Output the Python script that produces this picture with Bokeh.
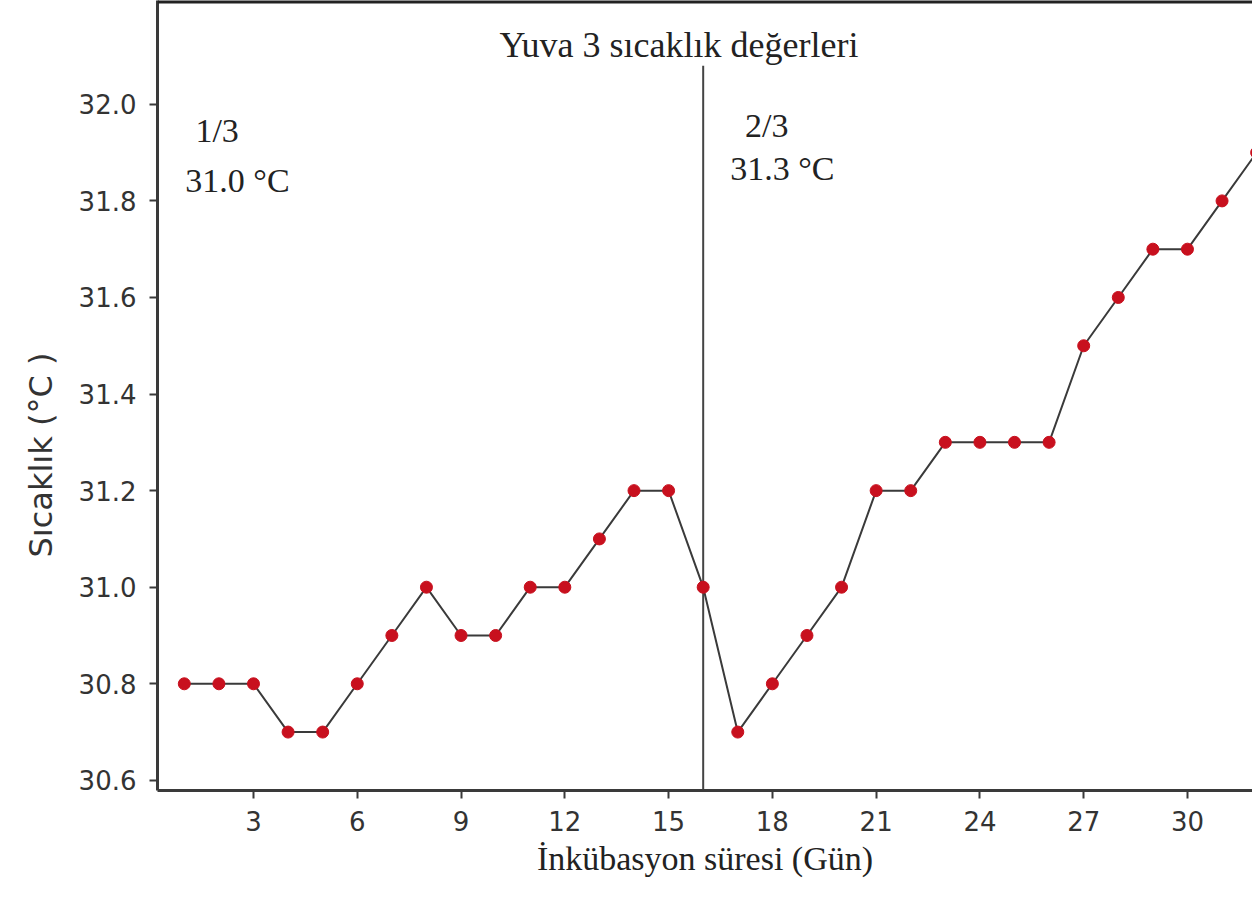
import math
from bokeh.plotting import figure
from bokeh.models import Label, Span, Range1d, FixedTicker, Title
from bokeh.embed import file_html
from bokeh.resources import INLINE

# --- data ---
days = list(range(1, 33))
temps = [30.8, 30.8, 30.8, 30.7, 30.7, 30.8, 30.9, 31.0, 30.9, 30.9,
         31.0, 31.0, 31.1, 31.2, 31.2, 31.0, 30.7, 30.8, 30.9, 31.0,
         31.2, 31.2, 31.3, 31.3, 31.3, 31.3, 31.5, 31.6, 31.7, 31.7,
         31.8, 31.9]
x_ticks = [3, 6, 9, 12, 15, 18, 21, 24, 27, 30]
y_ticks = [30.6, 30.8, 31.0, 31.2, 31.4, 31.6, 31.8, 32.0]
split_day = 16
period_labels = ["1/3", "2/3"]
period_means = ["31.0 °C", "31.3 °C"]
title_text = "Yuva 3 sıcaklık değerleri"
x_label = "İnkübasyon süresi (Gün)"
y_label = "Sıcaklık (°C )"

X0, X1 = 0.225, 31.88
Y0, Y1 = 30.579, 32.215

p = figure(width=1252, height=898, output_backend="svg", toolbar_location=None,
           x_range=Range1d(X0, X1), y_range=Range1d(Y0, Y1),
           min_border_left=157, min_border_right=0, min_border_top=0,
           min_border_bottom=108)
p.outline_line_color = None
p.grid.visible = False
p.background_fill_color = "white"
p.border_fill_color = "white"

for ax in (p.xaxis, p.yaxis):
    ax.axis_line_color = "#3a3a3a"
    ax.axis_line_width = 3
    ax.major_tick_line_color = "#3a3a3a"
    ax.major_tick_line_width = 2
    ax.major_tick_in = 0
    ax.major_tick_out = 8
    ax.minor_tick_line_color = None
    ax.major_label_text_font = "DejaVu Sans"
    ax.major_label_text_font_size = "26px"
    ax.major_label_text_color = "#333333"

p.xaxis.ticker = FixedTicker(ticks=x_ticks)
p.yaxis.ticker = FixedTicker(ticks=y_ticks)
p.yaxis.major_label_overrides = {v: f"{v:.1f}" for v in y_ticks}
p.xaxis.major_label_standoff = 12
p.yaxis.major_label_standoff = 13

p.xaxis.axis_label = x_label
p.xaxis.axis_label_text_font = "Liberation Serif"
p.xaxis.axis_label_text_font_style = "normal"
p.xaxis.axis_label_text_font_size = "34px"
p.xaxis.axis_label_text_color = "#222222"
p.xaxis.axis_label_standoff = 6

# y label as a side title so it can sit lower, as in the reference
p.add_layout(Title(text=y_label, align="left", offset=233, standoff=32,
                   text_font="DejaVu Sans", text_font_style="normal",
                   text_font_size="32px", text_color="#333333"), "left")

# top border remnant
p.add_layout(Span(location=Y1, dimension="width", line_color="#222222", line_width=6))

# vertical divider
p.segment(x0=[split_day], y0=[Y0], x1=[split_day], y1=[32.08],
          line_color="#444444", line_width=2)

p.line(days, temps, line_color="#3a3a3a", line_width=2)
p.scatter(days, temps, size=12, fill_color="#c8101e", line_color="#c8101e")

serif = dict(text_font="Liberation Serif", text_font_size="34px", text_color="#222222")
p.add_layout(Label(x=15.3, y=32.122, text=title_text, text_align="center",
                   text_baseline="middle", text_font="Liberation Serif",
                   text_font_size="36px", text_color="#222222"))
p.add_layout(Label(x=1.32, y=31.946, text=period_labels[0], text_baseline="middle", **serif))
p.add_layout(Label(x=1.03, y=31.843, text=period_means[0], text_baseline="middle", **serif))
p.add_layout(Label(x=17.21, y=31.957, text=period_labels[1], text_baseline="middle", **serif))
p.add_layout(Label(x=16.78, y=31.867, text=period_means[1], text_baseline="middle", **serif))

open("out.html", "w").write(file_html(p, INLINE))
